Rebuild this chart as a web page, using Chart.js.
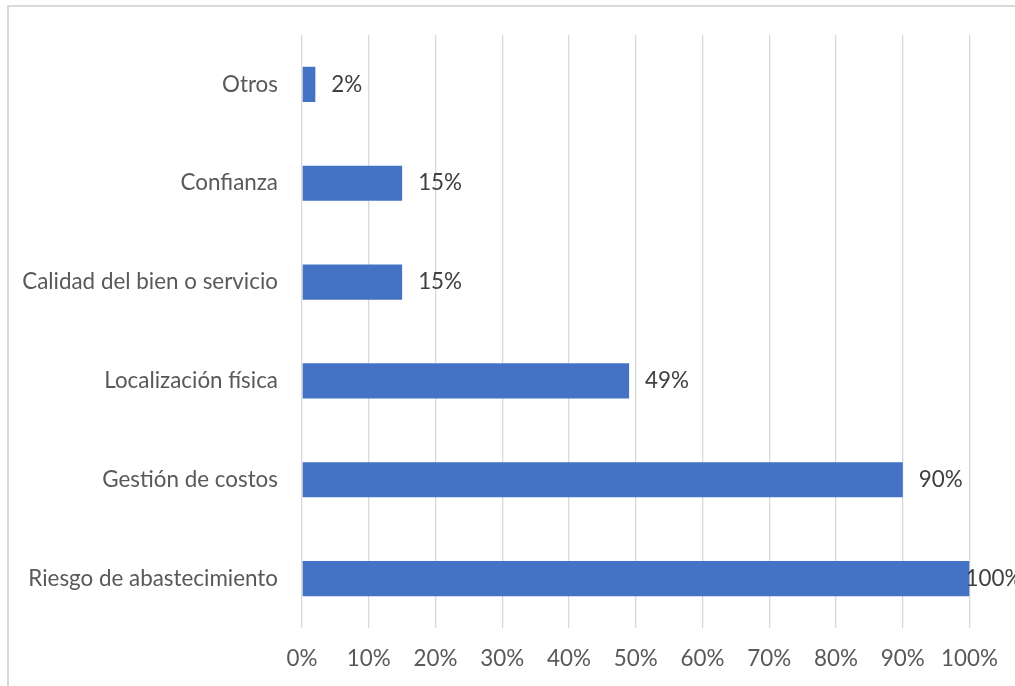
<!DOCTYPE html>
<html>
<head>
<meta charset="utf-8">
<script src="https://cdn.jsdelivr.net/npm/chart.js@4.4.0/dist/chart.umd.min.js"></script>
<style>
  html, body { margin: 0; padding: 0; background: #ffffff; overflow: hidden; }
  #wrap { position: relative; width: 1015px; height: 686px; }
  #frame { position: absolute; left: 7px; top: 5px; width: 1100px; height: 800px;
           border: 2px solid #d9d9d9; pointer-events: none; }
  canvas { position: absolute; left: 0; top: 0; }
</style>
</head>
<body>
<div id="wrap">
  <canvas id="c" width="1015" height="686"></canvas>
  <div id="frame"></div>
</div>
<script>
const categories = [
  "Otros",
  "Confianza",
  "Calidad del bien o servicio",
  "Localización física",
  "Gestión de costos",
  "Riesgo de abastecimiento"
];
const values = [2, 15, 15, 49, 90, 100];
const tickStep = 10;
const axisMin = 0;
const axisMax = 100;

const FONT = "Lato";
const FONT_SIZE = 22.4;

const dataLabels = {
  id: "dataLabels",
  afterDatasetsDraw(chart) {
    const ctx = chart.ctx;
    const meta = chart.getDatasetMeta(0);
    ctx.save();
    ctx.font = FONT_SIZE + "px " + FONT;
    ctx.fillStyle = "#404040";
    ctx.textAlign = "left";
    ctx.textBaseline = "middle";
    meta.data.forEach((bar, i) => {
      const txt = values[i] + "%";
      let x = bar.x + 16;
      const limit = chart.chartArea.right - 4;
      if (x > limit) x = limit;
      ctx.fillText(txt, x, bar.y);
    });
    ctx.restore();
  }
};

new Chart(document.getElementById("c"), {
  type: "bar",
  data: {
    labels: categories,
    datasets: [{
      data: values,
      backgroundColor: "#4472C4",
      borderWidth: 0,
      categoryPercentage: 1.0,
      barPercentage: 0.355
    }]
  },
  options: {
    indexAxis: "y",
    responsive: false,
    animation: false,
    devicePixelRatio: 1,
    layout: { padding: { top: 35, right: 45, bottom: 0, left: 0 } },
    plugins: { legend: { display: false }, tooltip: { enabled: false } },
    scales: {
      x: {
        min: axisMin,
        max: axisMax,
        grid: { display: true, color: "#d9d9d9", lineWidth: 1.3, drawTicks: false },
        border: { display: false },
        ticks: {
          stepSize: tickStep,
          padding: 17,
          color: "#595959",
          font: { family: FONT, size: FONT_SIZE },
          maxRotation: 0,
          callback: v => v + "%"
        },
        afterFit(scale) { scale.height = 58; }
      },
      y: {
        grid: { display: false },
        border: { display: false },
        ticks: {
          padding: 16,
          color: "#595959",
          font: { family: FONT, size: FONT_SIZE }
        },
        afterFit(scale) { scale.width = 302; }
      }
    }
  },
  plugins: [dataLabels]
});
</script>
</body>
</html>
